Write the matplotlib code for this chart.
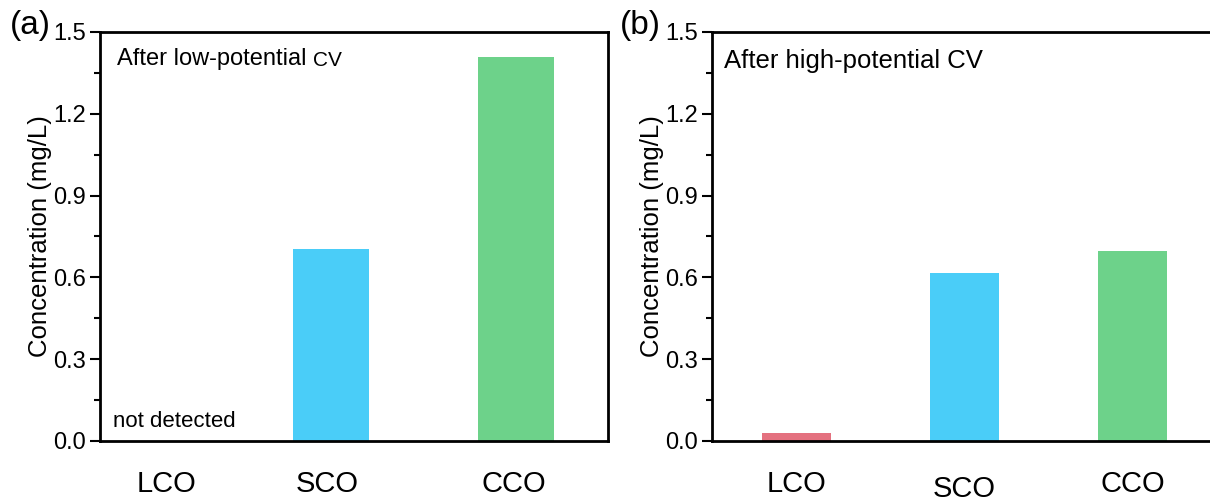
import matplotlib.pyplot as plt
from matplotlib.ticker import MultipleLocator

plt.rcParams["font.family"] = ["Liberation Sans", "DejaVu Sans"]

SAMPLES = ["LCO", "SCO", "CCO"]
LOW_CV = [0.0, 0.704, 1.408]
HIGH_CV = [0.03, 0.616, 0.697]
COLORS = ["#E4717F", "#4ACDF8", "#6DD28A"]


def style_axis(ax):
    ax.set_ylim(0, 1.5)
    ax.yaxis.set_major_locator(MultipleLocator(0.3))
    ax.yaxis.set_minor_locator(MultipleLocator(0.15))
    ax.yaxis.set_major_formatter(lambda v, _: f"{v:.1f}")
    ax.tick_params(axis="y", which="major", direction="out", length=7,
                   width=1.5, labelsize=17, pad=3)
    ax.tick_params(axis="y", which="minor", direction="out", length=4,
                   width=1.5)
    ax.tick_params(axis="x", length=0, labelsize=21, pad=21)
    for s in ax.spines.values():
        s.set_linewidth(2)
    ax.set_ylabel("Concentration (mg/L)", fontsize=18.5, labelpad=1)


fig = plt.figure(figsize=(12.1, 5.03), dpi=100)
ax_a = fig.add_axes([0.0826, 0.1233, 0.4199, 0.8131])
ax_b = fig.add_axes([0.5884, 0.1233, 0.4174, 0.8131])

x = range(len(SAMPLES))

ax_a.bar(x, LOW_CV, width=0.41, color=COLORS)
ax_a.set_xlim(-0.25, 2.5)
style_axis(ax_a)
ax_a.set_xticks([0.11, 0.98, 1.99])
ax_a.set_xticklabels(SAMPLES)
t = ax_a.text(0.033, 0.92, "After low-potential ", transform=ax_a.transAxes,
              fontsize=17, va="baseline", ha="left")
ax_a.annotate("CV", xy=(1, 0), xycoords=t, fontsize=15,
              va="bottom", ha="left")
ax_a.text(-0.18, 0.07, "not detected", fontsize=16, va="center", ha="left")

ax_b.bar(x, HIGH_CV, width=0.41, color=COLORS)
ax_b.set_xlim(-0.5, 2.5)
style_axis(ax_b)
ax_b.set_xticks(list(x))
ax_b.set_xticklabels(SAMPLES)
ax_b.get_xticklabels()[1].set_y(-0.012)
ax_b.text(0.024, 0.93, "After high-potential CV", transform=ax_b.transAxes,
          fontsize=18.5, va="center", ha="left")

fig.text(0.008, 0.95, "(a)", fontsize=24, va="center", ha="left")
fig.text(0.512, 0.95, "(b)", fontsize=24, va="center", ha="left")

fig.savefig("out.png", dpi=100)
